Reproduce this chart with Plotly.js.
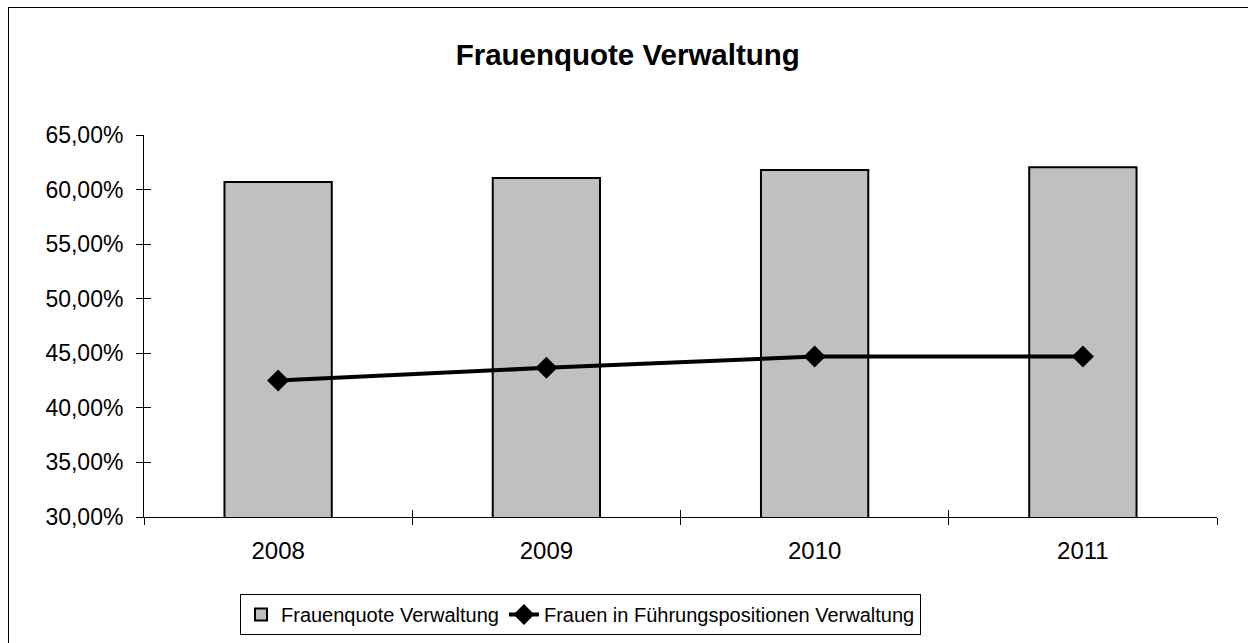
<!DOCTYPE html>
<html>
<head>
<meta charset="utf-8">
<script src="https://cdn.plot.ly/plotly-3.0.1.min.js"></script>
<style>
  html, body { margin: 0; padding: 0; background: #fff; }
  #wrap { position: relative; width: 1248px; height: 643px; overflow: hidden; }
  #chart { width: 1248px; height: 643px; }
  #frame { position: absolute; left: 8px; top: 7px; width: 1260px; height: 660px;
           border: 1.5px solid #000; pointer-events: none; box-sizing: border-box; }
</style>
</head>
<body>
<div id="wrap">
  <div id="chart"></div>
  <div id="frame"></div>
</div>
<script>
const years = ['2008', '2009', '2010', '2011'];
const frauenquote = [60.70, 61.05, 61.80, 62.05];
const fuehrung = [42.50, 43.67, 44.70, 44.70];
const yTicks = [30, 35, 40, 45, 50, 55, 60, 65];
const yTickText = yTicks.map(v => v.toFixed(2).replace('.', ',') + '%');

const FONT = 'Liberation Sans, Arial, sans-serif';

const traces = [
  {
    type: 'bar', name: 'Frauenquote Verwaltung', x: years, y: frauenquote,
    marker: { color: '#C0C0C0', line: { color: '#000', width: 2 } },
    hoverinfo: 'x+y'
  },
  {
    type: 'scatter', mode: 'lines+markers', name: 'Frauen in Führungspositionen Verwaltung',
    x: years, y: fuehrung,
    line: { color: '#000', width: 4 },
    marker: { symbol: 'diamond', size: 17, color: '#000' }
  },
  {
    type: 'scatter', mode: 'none', x: years, y: fuehrung, xaxis: 'x2', yaxis: 'y2',
    showlegend: false, hoverinfo: 'skip'
  }
];

const layout = {
  width: 1248, height: 643,
  margin: { l: 144, r: 31, t: 135, b: 126 },
  paper_bgcolor: '#fff', plot_bgcolor: '#fff',
  separators: ',.',
  font: { family: FONT, color: '#000', size: 20 },
  title: {
    text: '<b>Frauenquote Verwaltung</b>',
    font: { family: FONT, size: 29.5, color: '#000' },
    xref: 'container', x: 0.503, xanchor: 'center',
    yref: 'container', y: 1 - 55 / 643, yanchor: 'middle'
  },
  bargap: 0.6,
  showlegend: true,
  legend: {
    orientation: 'h',
    xref: 'container', x: 240 / 1248, xanchor: 'left',
    yref: 'container', y: 1 - 594 / 643, yanchor: 'top',
    bordercolor: '#000', borderwidth: 1, bgcolor: '#fff',
    font: { family: FONT, size: 20, color: '#000' },
    itemwidth: 30, tracegroupgap: 0
  },
  xaxis: {
    type: 'category', categoryorder: 'array', categoryarray: years,
    range: [-0.5, 3.5], automargin: false,
    showline: true, linecolor: '#000', linewidth: 1,
    ticks: 'outside', tickson: 'boundaries', ticklen: 7, tickcolor: '#000', tickwidth: 1,
    showgrid: false, zeroline: false,
    tickfont: { family: FONT, size: 24, color: '#000' },
    ticklabelstandoff: 12
  },
  xaxis2: {
    type: 'category', categoryorder: 'array', categoryarray: years,
    range: [-0.5, 3.5], overlaying: 'x', anchor: 'y2',
    showline: false, ticks: 'inside', tickson: 'boundaries', ticklen: 7,
    tickcolor: '#000', tickwidth: 1, showticklabels: false, showgrid: false, zeroline: false
  },
  yaxis: {
    range: [30, 65], tickmode: 'array', tickvals: yTicks, ticktext: yTickText, automargin: false,
    showline: true, linecolor: '#000', linewidth: 1,
    ticks: 'outside', ticklen: 7, tickcolor: '#000', tickwidth: 1,
    showgrid: false, zeroline: false,
    tickfont: { family: FONT, size: 23, color: '#000' },
    ticklabelstandoff: 8
  },
  yaxis2: {
    range: [30, 65], tickmode: 'array', tickvals: yTicks, overlaying: 'y', anchor: 'x2', side: 'left',
    showline: false, ticks: 'inside', ticklen: 7, tickcolor: '#000', tickwidth: 1,
    showticklabels: false, showgrid: false, zeroline: false
  }
};

Plotly.newPlot('chart', traces, layout, { displayModeBar: false, staticPlot: true });
</script>
</body>
</html>
